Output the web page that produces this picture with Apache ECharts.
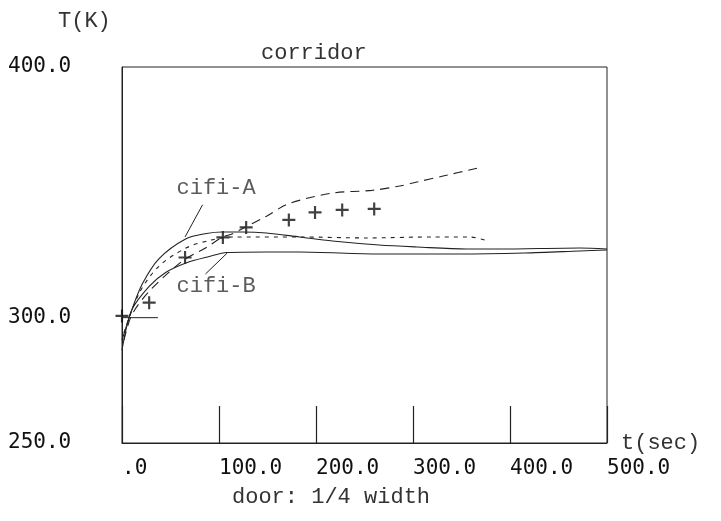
<!DOCTYPE html>
<html>
<head>
<meta charset="utf-8">
<script src="https://cdn.jsdelivr.net/npm/echarts@6/dist/echarts.min.js"></script>
<style>html,body{margin:0;padding:0;background:#fff}#c{width:721px;height:521px}</style>
</head>
<body>
<div id="c"></div>
<script>
// ---- data (t in sec, T in K) ----
var cifiA = [[0,291],[10,303],[21,313.5],[38,323.5],[66,331.5],[87,333.6],[103,334.2],[124,334.2],[149,333.8],[183,332.2],[217,330.6],[265,329],[304,328.2],[355,327.4],[389,327.4],[472,327.8],[500,327.4]];
var cifiB = [[0,287],[10,303],[28,312.5],[45,318],[66,321.8],[90,324.4],[108,326],[149,326.2],[183,326.2],[265,325.4],[348,325.4],[415,325.8],[472,326.6],[500,327]];
var longDash = [[2,291],[10,301],[28,310.5],[62,322.5],[87,328],[103,332],[114,333.5],[124,335.5],[149,340.5],[172,345.5],[217,349.7],[258,350.8],[286,352.5],[304,354.1],[331,356.5],[367,359.7]];
var shortDash = [[2,294],[18,310],[38,320.5],[66,327.8],[90,330.8],[114,332.2],[183,332.2],[252,331.8],[320,332.2],[358,332.2],[374,331]];
var measured = [[0,300.7],[28,306],[65,324],[104,332],[128,336],[172,339],[199,342],[227,343],[260,343.4]];
var initialLine = [[0,300],[37,300]];
var leaderA = [[83,345],[65,332.2]];
var leaderB = [[108.5,325.8],[86,317.4]];
var labelA = [[97,351.7]];
var labelB = [[97,312.6]];
var yTickLabels = {250:'250.0',300:'300.0',400:'400.0'};
var xTickLabels = {0:'.0',100:'100.0',200:'200.0',300:'300.0',400:'400.0',500:'500.0'};

var INK = '#222';
var thinFont = 'Liberation Mono';
var numFont = 'DejaVu Sans Mono';

var chart = echarts.init(document.getElementById('c'), null, {renderer:'canvas'});
var plus = 'path://M5,0H7V5H12V7H7V12H5V7H0V5H5Z';

chart.setOption({
  backgroundColor:'#fff',
  animation:false,
  title:{text:'corridor', left:256, top:37, textStyle:{fontFamily:thinFont, fontSize:22, fontWeight:'normal', color:'#333'}},
  grid:{left:122, right:114, top:67, bottom:78, show:true, borderColor:INK, borderWidth:1, backgroundColor:'transparent'},
  xAxis:{type:'value', min:0, max:500, interval:100,
    name:'t(sec)', nameLocation:'end', nameGap:14,
    nameTextStyle:{fontFamily:thinFont, fontSize:22, color:'#333', verticalAlign:'middle', padding:[6,0,0,0]},
    axisLine:{show:true, lineStyle:{color:INK, width:1}},
    axisTick:{show:true, inside:true, length:37, lineStyle:{color:INK, width:1.2}},
    axisLabel:{show:true, margin:15, align:'left', fontFamily:numFont, fontSize:21, color:'#111',
      formatter:function(v){return xTickLabels[v]||'';}},
    splitLine:{show:false}},
  yAxis:{type:'value', min:250, max:400, interval:50,
    axisLine:{show:true, lineStyle:{color:INK, width:1}},
    axisTick:{show:false},
    axisLabel:{show:true, margin:114, align:'left', fontFamily:numFont, fontSize:21, color:'#111', padding:[0,0,10,0],
      formatter:function(v){return yTickLabels[v]||'';}},
    splitLine:{show:false}},
  graphic:[
    {type:'text', left:58, top:10, style:{text:'T(K)', font:'22px "'+thinFont+'"', fill:'#333'}},
    {type:'text', left:232, top:486, style:{text:'door: 1/4 width', font:'22px "'+thinFont+'"', fill:'#333'}}
  ],
  series:[
    {type:'line', data:cifiA, showSymbol:false, smooth:0.3, lineStyle:{color:INK, width:1.1}},
    {type:'line', data:cifiB, showSymbol:false, smooth:0.3, lineStyle:{color:INK, width:1.1}},
    {type:'line', data:longDash, showSymbol:false, smooth:0.3, lineStyle:{color:INK, width:1.1, type:[9,6]}},
    {type:'line', data:shortDash, showSymbol:false, smooth:0.3, lineStyle:{color:INK, width:1.1, type:[4,5]}},
    {type:'line', data:initialLine, showSymbol:false, lineStyle:{color:INK, width:1}},
    {type:'line', data:leaderA, showSymbol:false, lineStyle:{color:INK, width:1}},
    {type:'line', data:leaderB, showSymbol:false, lineStyle:{color:INK, width:1}},
    {type:'scatter', data:measured, symbol:plus, symbolSize:13, itemStyle:{color:'#111'}},
    {type:'scatter', data:labelA, symbolSize:1, itemStyle:{color:'rgba(0,0,0,0)'},
      label:{show:true, position:'inside', formatter:'cifi-A', fontFamily:thinFont, fontSize:22, color:'#333'}},
    {type:'scatter', data:labelB, symbolSize:1, itemStyle:{color:'rgba(0,0,0,0)'},
      label:{show:true, position:'inside', formatter:'cifi-B', fontFamily:thinFont, fontSize:22, color:'#333'}}
  ]
});
</script>
</body>
</html>
